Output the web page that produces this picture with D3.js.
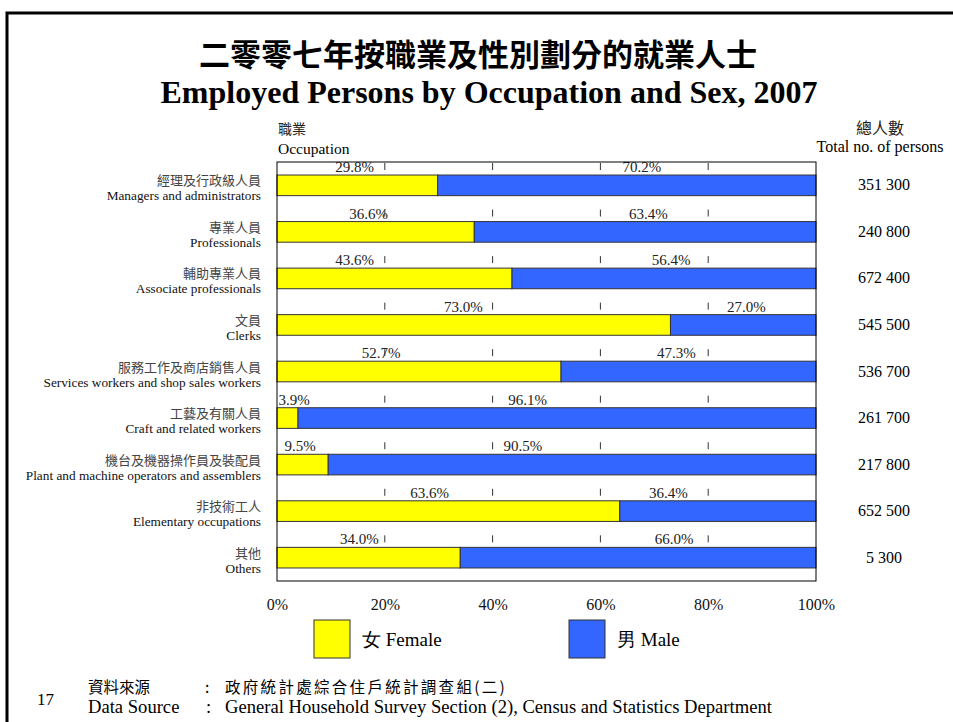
<!DOCTYPE html>
<html>
<head>
<meta charset="utf-8">
<script src="https://cdn.jsdelivr.net/npm/d3@7"></script>
<style>
  body { margin: 0; background: #fff; }
  svg text { font-family: "Liberation Serif", "Times New Roman", serif; }
  .cjk { font-family: "Noto Sans CJK TC", "Noto Sans CJK SC", sans-serif; }
</style>
</head>
<body>
<div id="Canvas"></div>
<script>
// 職業（中英）
const occZh = ["經理及行政級人員", "專業人員", "輔助專業人員", "文員", "服務工作及商店銷售人員",
  "工藝及有關人員", "機台及機器操作員及裝配員", "非技術工人", "其他"]
const occEn = ["Managers and administrators", "Professionals", "Associate professionals", "Clerks",
  "Services workers and shop sales workers", "Craft and related workers",
  "Plant and machine operators and assemblers", "Elementary occupations", "Others"]
// 女 / 男 百分比
const female = [29.8, 36.6, 43.6, 73.0, 52.7, 3.9, 9.5, 63.6, 34.0]
const male = [70.2, 63.4, 56.4, 27.0, 47.3, 96.1, 90.5, 36.4, 66.0]
// 總人數
const totals = ["351 300", "240 800", "672 400", "545 500", "536 700", "261 700", "217 800", "652 500", "5 300"]
// 百分比標籤放在哪裡 (以%為單位)
const femaleLabelAt = [14.4, 17, 14.4, 34.6, 19.3, 3.2, 4.3, 28.3, 15.3]
const maleLabelAt = [67.7, 68.9, 73.1, 87.1, 74.1, 46.5, 45.6, 72.6, 73.7]
const xTicks = [0, 20, 40, 60, 80, 100]

const W = 953, H = 722
const plotLeft = 277, plotRight = 816, plotTop = 162, plotBottom = 581

let svg = d3.select("#Canvas").append("svg")
  .attr("width", W).attr("height", H)

let x = d3.scaleLinear().domain([0, 100]).range([plotLeft, plotRight])
let y = d3.scaleBand().domain(d3.range(occZh.length)).range([plotTop, plotBottom])
  .paddingInner(0.557).paddingOuter(0.28)
let step = y.step()

// 外框
svg.append("path")
  .attr("d", `M7,${H} L7,13 L${W},13`)
  .attr("fill", "none").attr("stroke", "#000").attr("stroke-width", 3)

// 標題
svg.append("text").attr("class", "cjk")
  .attr("x", 478).attr("y", 66).attr("text-anchor", "middle")
  .style("font-size", "31px").style("font-weight", 700)
  .text("二零零七年按職業及性別劃分的就業人士")
svg.append("text")
  .attr("x", 489).attr("y", 103).attr("text-anchor", "middle")
  .style("font-size", "32px").style("font-weight", 700)
  .text("Employed Persons by Occupation and Sex, 2007")

// 欄位標題
svg.append("text").attr("class", "cjk").attr("x", 278).attr("y", 134)
  .style("font-size", "14px").attr("fill", "#222").text("職業")
svg.append("text").attr("x", 278).attr("y", 154)
  .style("font-size", "15.5px").text("Occupation")
svg.append("text").attr("class", "cjk").attr("x", 880).attr("y", 134).attr("text-anchor", "middle")
  .style("font-size", "16px").attr("fill", "#222").text("總人數")
svg.append("text").attr("x", 880).attr("y", 152).attr("text-anchor", "middle")
  .style("font-size", "16px").text("Total no. of persons")

// 虛線格線
svg.append("g").selectAll("line")
  .data(xTicks.slice(1, -1))
  .enter().append("line")
  .attr("x1", d => x(d)).attr("x2", d => x(d))
  .attr("y1", plotTop).attr("y2", plotBottom)
  .attr("stroke", "#333").attr("stroke-width", 1)
  .attr("stroke-dasharray", `7 ${step - 7}`)
  .attr("stroke-dashoffset", -1)

// 長條
let rows = svg.append("g").selectAll("g")
  .data(d3.range(occZh.length))
  .enter().append("g")

rows.append("rect")
  .attr("x", x(0)).attr("y", i => y(i))
  .attr("width", i => x(female[i]) - x(0)).attr("height", y.bandwidth())
  .attr("fill", "#FFFF00").attr("stroke", "#333").attr("stroke-width", 1)
rows.append("rect")
  .attr("x", i => x(female[i])).attr("y", i => y(i))
  .attr("width", i => x(female[i] + male[i]) - x(female[i])).attr("height", y.bandwidth())
  .attr("fill", "#3366FF").attr("stroke", "#333").attr("stroke-width", 1)

// 百分比標籤
rows.append("text")
  .attr("x", i => x(femaleLabelAt[i])).attr("y", i => y(i) - 3)
  .attr("text-anchor", "middle").style("font-size", "15px").attr("fill", "#222")
  .text(i => female[i].toFixed(1) + "%")
rows.append("text")
  .attr("x", i => x(maleLabelAt[i])).attr("y", i => y(i) - 3)
  .attr("text-anchor", "middle").style("font-size", "15px").attr("fill", "#222")
  .text(i => male[i].toFixed(1) + "%")

// 左邊職業名稱
rows.append("text").attr("class", "cjk")
  .attr("x", 261).attr("y", i => y(i) + y.bandwidth() / 2 + 0)
  .attr("text-anchor", "end").style("font-size", "13px").attr("fill", "#444")
  .text(i => occZh[i])
rows.append("text")
  .attr("x", 261).attr("y", i => y(i) + y.bandwidth() / 2 + 15)
  .attr("text-anchor", "end").style("font-size", "13.3px").attr("fill", "#111")
  .text(i => occEn[i])

// 右邊總人數
rows.append("text")
  .attr("x", 884).attr("y", i => y(i) + y.bandwidth() / 2 + 5)
  .attr("text-anchor", "middle").style("font-size", "16px")
  .text(i => totals[i])

// 外框 (圖)
svg.append("rect")
  .attr("x", plotLeft).attr("y", plotTop).attr("width", plotRight - plotLeft).attr("height", plotBottom - plotTop)
  .attr("fill", "none").attr("stroke", "#000").attr("stroke-width", 1)

// x 軸
let xAxis = svg.append("g")
  .attr("transform", `translate(0,${plotBottom + 15})`)
  .call(d3.axisBottom(x).tickValues(xTicks).tickSize(0).tickFormat(d => d + "%"))
xAxis.select(".domain").remove()
xAxis.selectAll("text")
  .style("font-family", '"Liberation Serif", serif').style("font-size", "16px").attr("fill", "#111")

// 圖例
const legendItems = [["女 Female", "#FFFF00", 314], ["男 Male", "#3366FF", 569]]
let legend = svg.append("g").selectAll("g").data(legendItems).enter().append("g")
legend.append("rect")
  .attr("x", d => d[2]).attr("y", 620).attr("width", 36).attr("height", 38)
  .attr("fill", d => d[1]).attr("stroke", "#333")
legend.append("text")
  .attr("x", d => d[2] + 48).attr("y", 646)
  .style("font-size", "19px")
  .text(d => d[0])

// 資料來源
svg.append("text").attr("x", 37).attr("y", 705).style("font-size", "17px").text("17")
svg.append("text").attr("class", "cjk").attr("x", 88).attr("y", 693)
  .style("font-size", "15.5px").text("資料來源")
svg.append("text").attr("class", "cjk").attr("x", 205).attr("y", 693)
  .style("font-size", "15.5px").text(":")
svg.append("text").attr("class", "cjk").attr("x", 225).attr("y", 693)
  .style("font-size", "15.5px").style("letter-spacing", "2.3px").text("政府統計處綜合住戶統計調查組(二)")
svg.append("text").attr("x", 88).attr("y", 713).style("font-size", "18.6px").text("Data Source")
svg.append("text").attr("x", 206).attr("y", 713).style("font-size", "18.6px").text(":")
svg.append("text").attr("x", 225).attr("y", 713).style("font-size", "18.6px")
  .text("General Household Survey Section (2), Census and Statistics Department")
</script>
</body>
</html>
